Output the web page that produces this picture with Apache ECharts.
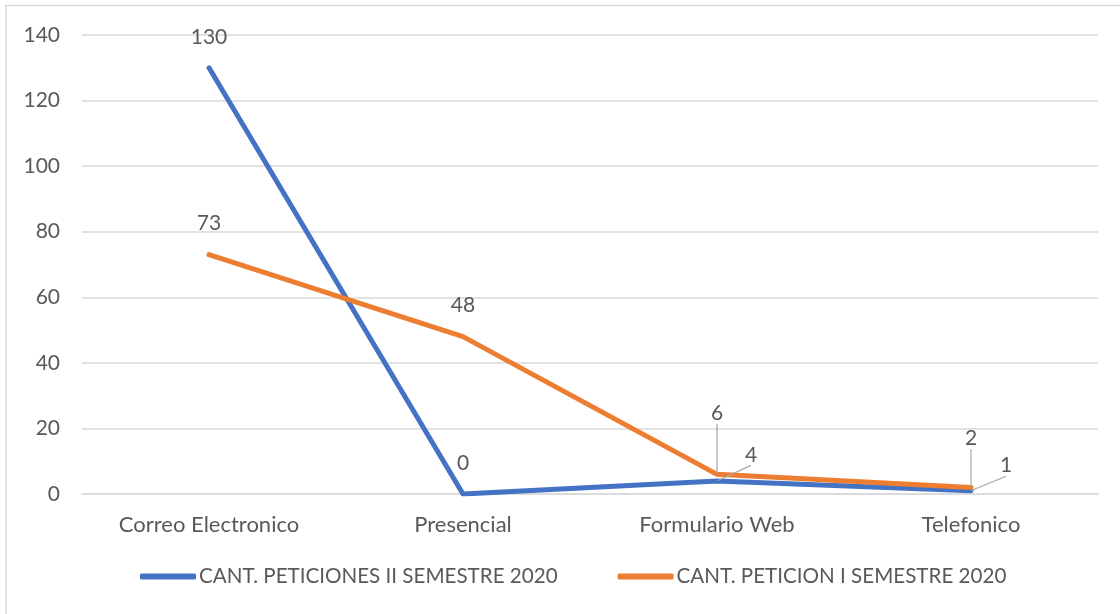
<!DOCTYPE html>
<html>
<head>
<meta charset="utf-8">
<script src="https://cdn.jsdelivr.net/npm/echarts@6/dist/echarts.min.js"></script>
<style>
  html, body { margin: 0; padding: 0; background: #fff; }
  #chart { width: 1120px; height: 614px; }
</style>
</head>
<body>
<div id="chart"></div>
<script>
// categorias y valores
const categorias = ['Correo Electronico', 'Presencial', 'Formulario Web', 'Telefonico']
const serieII = [130, 0, 4, 1]
const serieI = [73, 48, 6, 2]
const nombreII = 'CANT. PETICIONES II SEMESTRE 2020'
const nombreI = 'CANT. PETICION I SEMESTRE 2020'
const ticksY = { min: 0, max: 140, interval: 20 }

const fuente = 'Lato, "Open Sans", sans-serif'
const gris = '#595959'

// desplazamiento de etiquetas con linea guia (como en excel)
const movII = { 2: [34, 5], 3: [35, 6] }
const movI = { 2: [0, -30], 3: [0, -18] }

function capa (mov) {
  return function (p) {
    const m = mov[p.dataIndex]
    if (!m) return {}
    return { dx: m[0], dy: m[1] }
  }
}

// solo las etiquetas movidas llevan linea guia
function puntos (datos, mov) {
  return datos.map((v, i) => ({
    value: v,
    labelLine: { show: !!mov[i] }
  }))
}

function serie (nombre, datos, color, mov) {
  return {
    name: nombre,
    type: 'line',
    data: puntos(datos, mov),
    symbol: 'circle',
    symbolSize: 1,
    showSymbol: true,
    lineStyle: { width: 5, color: color, cap: 'round', join: 'round' },
    itemStyle: { color: color },
    label: {
      show: true,
      position: 'top',
      distance: 20,
      color: gris,
      fontSize: 21,
      fontFamily: fuente
    },
    labelLine: {
      show: false,
      lineStyle: { color: '#a6a6a6', width: 1.2 }
    },
    labelLayout: capa(mov),
    emphasis: { disabled: true },
    animation: false
  }
}

const chart = echarts.init(document.getElementById('chart'))
chart.setOption({
  backgroundColor: '#fff',
  animation: false,
  graphic: [
    {
      type: 'polyline',
      shape: { points: [[6, 614], [6, 5.5], [1120, 5.5]] },
      style: { stroke: '#d9d9d9', lineWidth: 1.5, fill: null },
      silent: true
    }
  ],
  grid: { left: 82, right: 22, top: 35, bottom: 120 },
  legend: {
    bottom: 22,
    left: 135,
    itemWidth: 56,
    itemHeight: 6,
    itemGap: 60,
    icon: 'roundRect',
    textStyle: { color: gris, fontSize: 20.6, fontFamily: fuente, padding: [0, 0, 0, -2] },
    data: [nombreII, nombreI]
  },
  xAxis: {
    type: 'category',
    data: categorias,
    boundaryGap: true,
    axisLine: { show: true, lineStyle: { color: '#d9d9d9', width: 1.5 } },
    axisTick: { show: false },
    axisLabel: { color: gris, fontSize: 22, fontFamily: fuente, margin: 20 }
  },
  yAxis: {
    type: 'value',
    min: ticksY.min,
    max: ticksY.max,
    interval: ticksY.interval,
    axisLine: { show: false },
    axisTick: { show: false },
    splitLine: { lineStyle: { color: '#d9d9d9', width: 1.5 } },
    axisLabel: { color: gris, fontSize: 21, fontFamily: fuente, margin: 22 }
  },
  series: [
    serie(nombreII, serieII, '#4472C4', movII),
    serie(nombreI, serieI, '#ED7D31', movI)
  ]
})
</script>
</body>
</html>
